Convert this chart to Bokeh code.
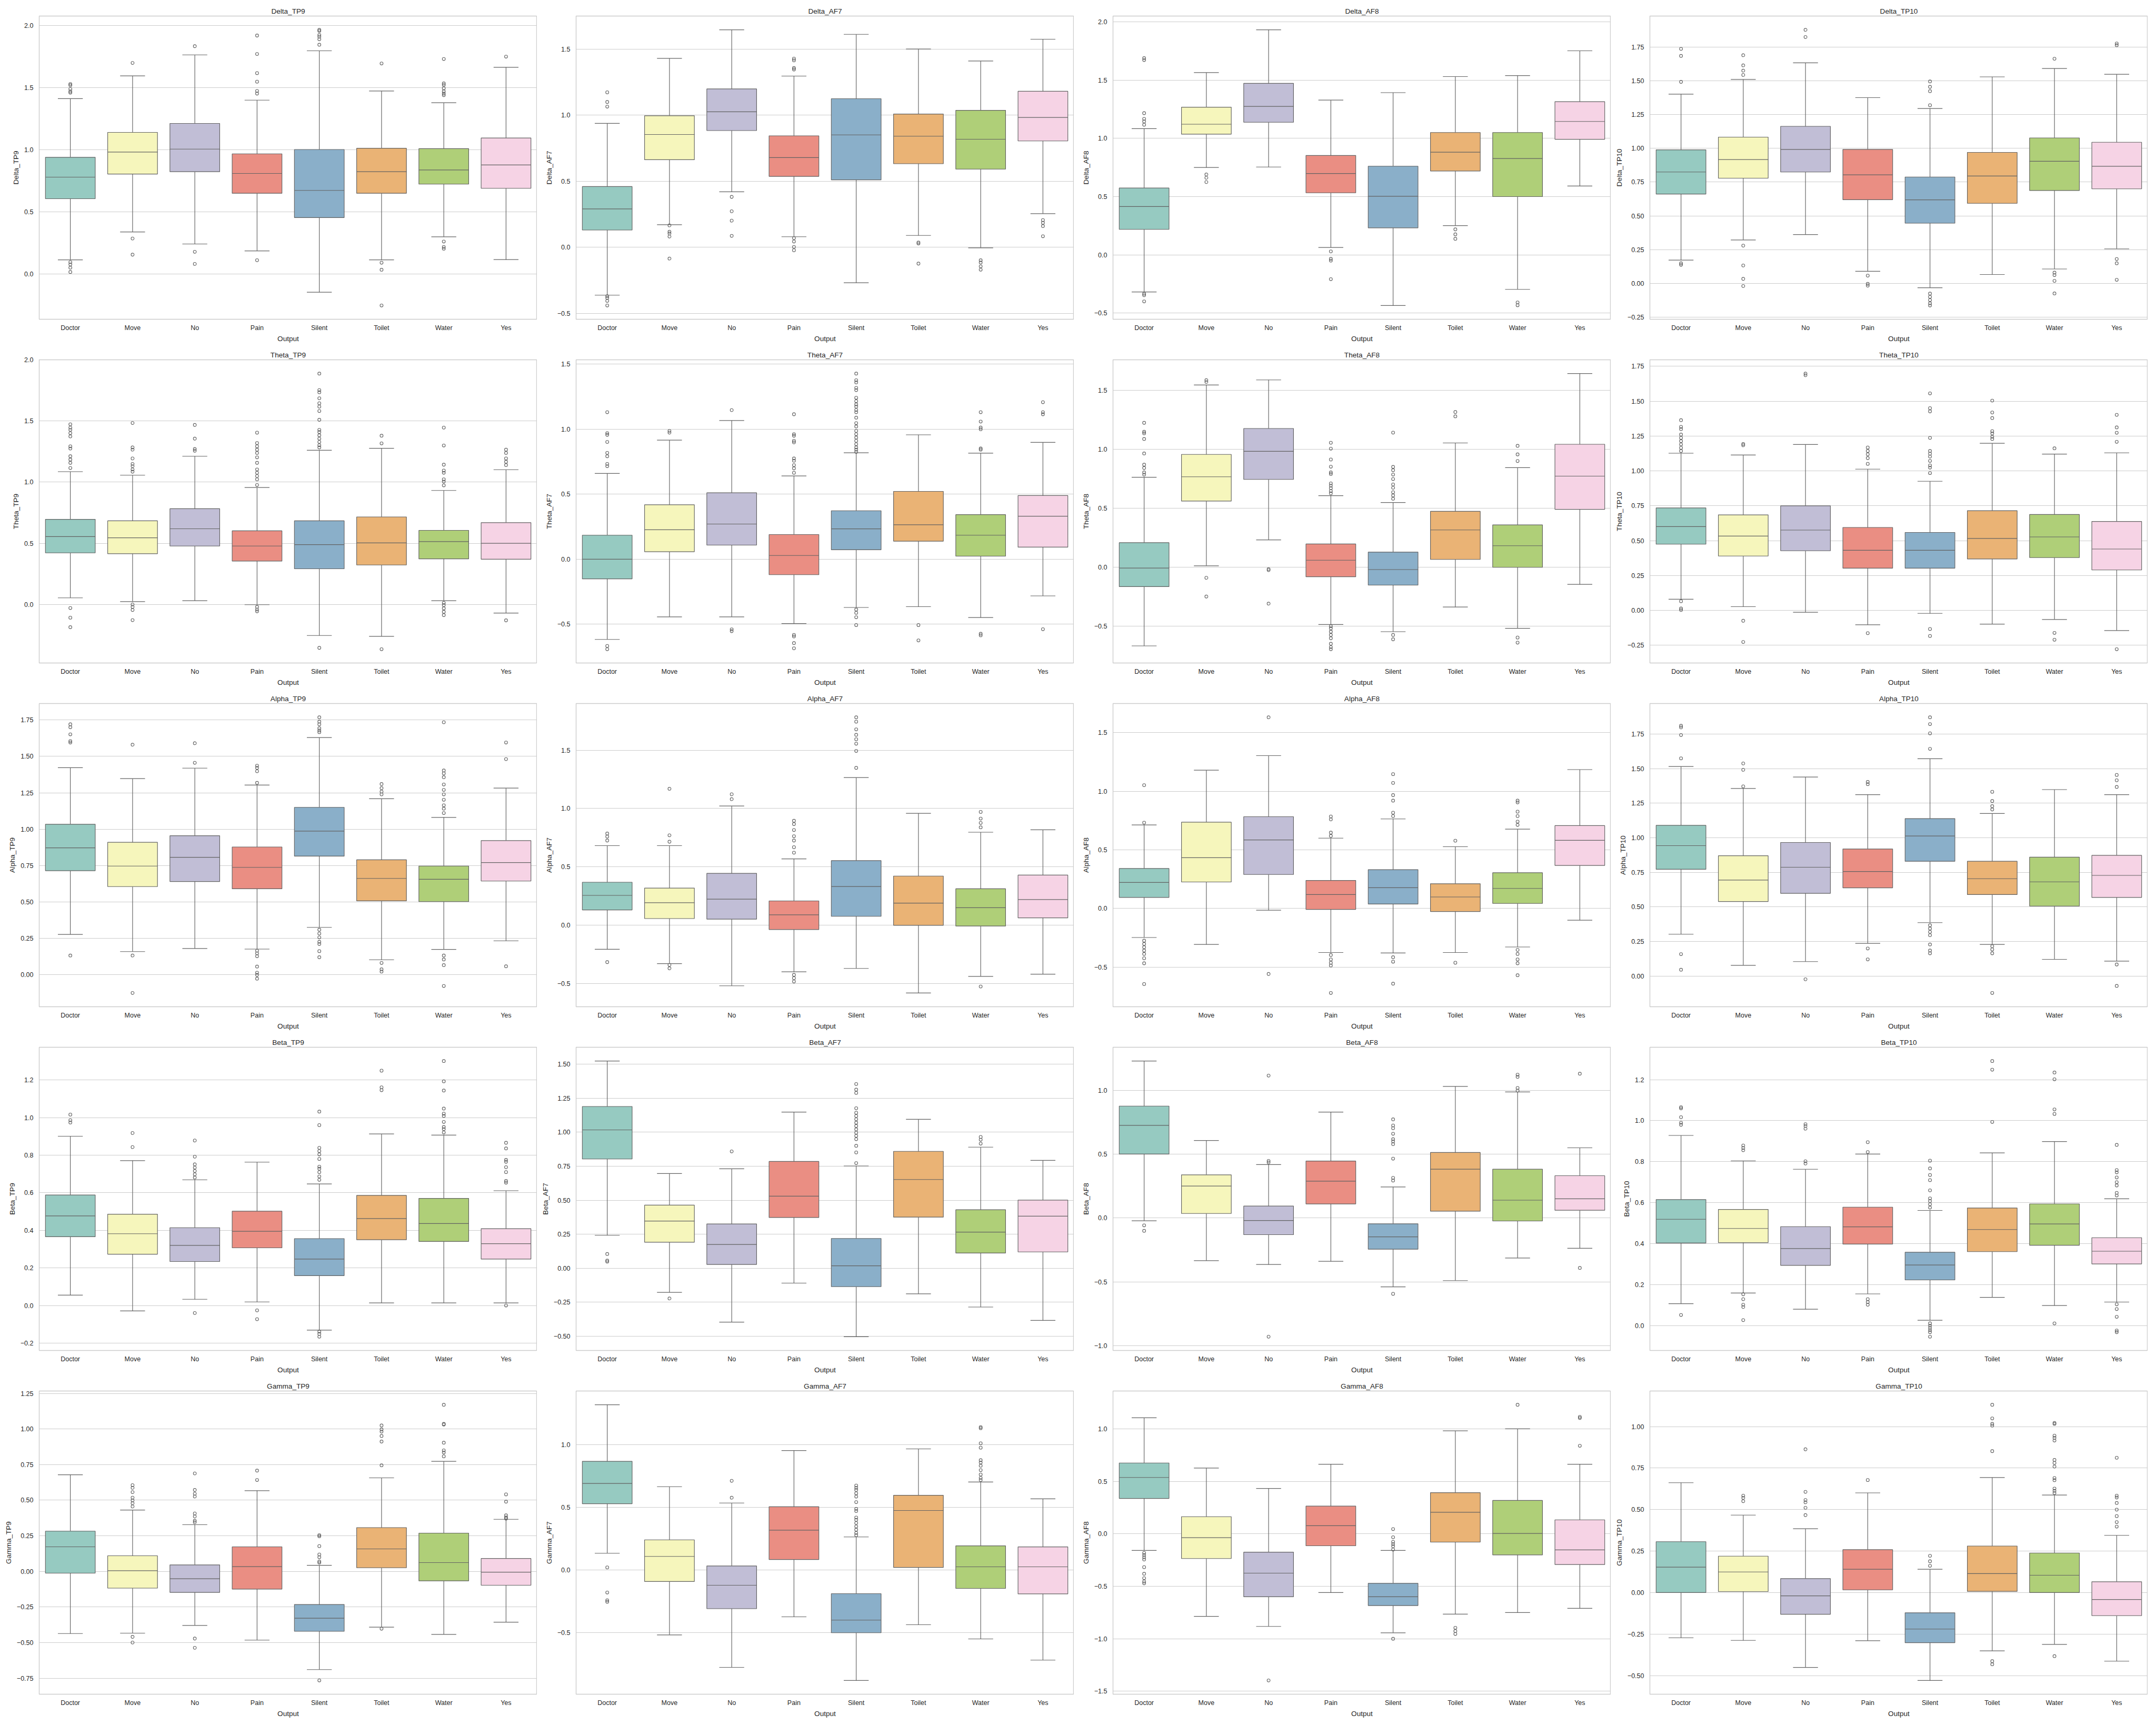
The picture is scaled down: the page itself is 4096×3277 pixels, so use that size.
import colorsys
import math
from bokeh.plotting import figure
from bokeh.layouts import gridplot
from bokeh.models import Range1d, FixedTicker, ColumnDataSource
from bokeh.embed import file_html
from bokeh.resources import INLINE

CATEGORIES = ["Doctor", "Move", "No", "Pain", "Silent", "Toilet", "Water", "Yes"]
SET3 = ["#8dd3c7", "#ffffb3", "#bebada", "#fb8072", "#80b1d3", "#fdb462", "#b3de69", "#fccde5"]

TITLES = ["Delta_TP9", "Delta_AF7", "Delta_AF8", "Delta_TP10",
          "Theta_TP9", "Theta_AF7", "Theta_AF8", "Theta_TP10",
          "Alpha_TP9", "Alpha_AF7", "Alpha_AF8", "Alpha_TP10",
          "Beta_TP9", "Beta_AF7", "Beta_AF8", "Beta_TP10",
          "Gamma_TP9", "Gamma_AF7", "Gamma_AF8", "Gamma_TP10"]

TICK_STEPS = [0.5, 0.5, 0.5, 0.25,
              0.5, 0.5, 0.5, 0.25,
              0.25, 0.5, 0.5, 0.25,
              0.2, 0.25, 0.5, 0.2,
              0.25, 0.5, 0.5, 0.25]

DELTA_TP9 = dict(
    lo=[0.112, 0.337, 0.240, 0.184, -0.149, 0.112, 0.298, 0.114],
    q1=[0.605, 0.804, 0.823, 0.649, 0.453, 0.649, 0.723, 0.689],
    med=[0.779, 0.981, 1.005, 0.809, 0.672, 0.823, 0.837, 0.877],
    q3=[0.939, 1.140, 1.212, 0.967, 1.002, 1.012, 1.009, 1.095],
    hi=[1.412, 1.596, 1.765, 1.400, 1.798, 1.474, 1.379, 1.665],
    out=[[1.53, 1.52, 1.49, 1.47, 1.46, 0.093, 0.075, 0.049, 0.014],
         [1.70, 0.284, 0.154],
         [1.835, 0.177, 0.079],
         [1.921, 1.772, 1.618, 1.549, 1.474, 1.453, 0.109],
         [1.967, 1.958, 1.926, 1.912, 1.891, 1.847],
         [1.696, 0.089, 0.032, -0.256],
         [1.732, 1.535, 1.523, 1.496, 1.47, 1.453, 1.44, 0.26, 0.216, 0.202],
         [1.751]])

DELTA_AF7 = dict(
    lo=[-0.363, 0.170, 0.419, 0.079, -0.269, 0.089, -0.005, 0.254],
    q1=[0.130, 0.662, 0.883, 0.536, 0.510, 0.632, 0.591, 0.804],
    med=[0.290, 0.853, 1.025, 0.678, 0.850, 0.840, 0.817, 0.982],
    q3=[0.459, 0.995, 1.198, 0.843, 1.124, 1.008, 1.036, 1.180],
    hi=[0.937, 1.429, 1.645, 1.295, 1.611, 1.500, 1.409, 1.574],
    out=[[1.172, 1.099, 1.064, -0.371, -0.384, -0.406, -0.441],
         [0.165, 0.117, 0.104, 0.081, -0.086],
         [0.381, 0.272, 0.201, 0.086],
         [1.427, 1.414, 1.356, 1.345, 0.069, 0.043, 0.002, -0.023],
         [],
         [0.036, 0.028, -0.124],
         [-0.099, -0.116, -0.145, -0.170],
         [0.205, 0.185, 0.160, 0.083]])

DELTA_AF8 = dict(
    lo=[-0.318, 0.750, 0.754, 0.064, -0.434, 0.251, -0.296, 0.591],
    q1=[0.219, 1.036, 1.138, 0.533, 0.232, 0.720, 0.500, 0.992],
    med=[0.415, 1.121, 1.274, 0.698, 0.503, 0.881, 0.827, 1.145],
    q3=[0.574, 1.267, 1.472, 0.853, 0.761, 1.050, 1.050, 1.315],
    hi=[1.083, 1.564, 1.931, 1.328, 1.392, 1.530, 1.538, 1.751],
    out=[[1.688, 1.672, 1.216, 1.167, 1.145, 1.117, -0.333, -0.346, -0.399],
         [0.690, 0.662, 0.625],
         [],
         [0.030, -0.034, -0.049, -0.208],
         [],
         [0.219, 0.176, 0.138],
         [-0.408, -0.432],
         []])

DELTA_TP10 = dict(
    lo=[0.173, 0.322, 0.362, 0.090, -0.032, 0.066, 0.107, 0.256],
    q1=[0.662, 0.779, 0.825, 0.620, 0.446, 0.593, 0.688, 0.700],
    med=[0.825, 0.917, 0.992, 0.804, 0.619, 0.795, 0.904, 0.867],
    q3=[0.989, 1.083, 1.163, 0.992, 0.788, 0.970, 1.077, 1.045],
    hi=[1.401, 1.510, 1.633, 1.375, 1.295, 1.529, 1.591, 1.548],
    out=[[1.736, 1.684, 1.492, 0.149, 0.138],
         [1.689, 1.614, 1.575, 1.543, 0.280, 0.133, 0.034, -0.019],
         [1.877, 1.824],
         [0.058, -0.003, -0.016],
         [1.495, 1.455, 1.423, 1.319, -0.075, -0.099, -0.123, -0.147, -0.163],
         [],
         [1.663, 0.080, 0.062, 0.019, -0.074],
         [1.776, 1.763, 0.181, 0.149, 0.027]])

THETA_TP9 = dict(
    lo=[0.054, 0.023, 0.031, -0.002, -0.254, -0.261, 0.031, -0.070],
    q1=[0.422, 0.415, 0.478, 0.355, 0.292, 0.323, 0.373, 0.370],
    med=[0.555, 0.545, 0.619, 0.478, 0.489, 0.503, 0.514, 0.500],
    q3=[0.696, 0.684, 0.783, 0.602, 0.684, 0.716, 0.606, 0.669],
    hi=[1.086, 1.057, 1.212, 0.956, 1.261, 1.277, 0.932, 1.102],
    out=[[1.473, 1.446, 1.428, 1.401, 1.374, 1.293, 1.275, 1.212, 1.185, 1.158, 1.116, -0.029, -0.108, -0.186],
         [1.484, 1.284, 1.266, 1.194, 1.149, 1.131, 1.104, 1.086, 0.0, -0.020, -0.045, -0.128],
         [1.468, 1.356, 1.271, 1.257],
         [1.405, 1.320, 1.293, 1.266, 1.239, 1.203, 1.158, 1.104, 1.077, 1.050, 1.023, 0.977, -0.020, -0.041, -0.056],
         [1.888, 1.753, 1.735, 1.686, 1.645, 1.618, 1.582, 1.510, 1.428, 1.410, 1.383, 1.356, 1.329, 1.302, 1.284, -0.355],
         [1.380, 1.317, -0.366],
         [1.446, 1.300, 1.143, 1.095, 1.077, 1.023, 1.005, 0.974, 0.013, -0.005, -0.032, -0.060, -0.087],
         [1.266, 1.239, 1.194, 1.167, 1.140, -0.130]])

THETA_AF7 = dict(
    lo=[-0.617, -0.443, -0.443, -0.495, -0.371, -0.365, -0.448, -0.282],
    q1=[-0.151, 0.058, 0.109, -0.119, 0.073, 0.139, 0.024, 0.093],
    med=[0.0, 0.227, 0.271, 0.029, 0.234, 0.265, 0.185, 0.331],
    q3=[0.185, 0.419, 0.511, 0.190, 0.373, 0.522, 0.343, 0.490],
    hi=[0.660, 0.916, 1.067, 0.641, 0.819, 0.957, 0.816, 0.899],
    out=[[1.131, 0.970, 0.957, 0.902, 0.818, 0.792, 0.733, 0.716, -0.667, -0.692],
         [0.987, 0.974],
         [1.147, -0.539, -0.553],
         [1.115, 0.962, 0.950, 0.911, 0.899, 0.775, 0.758, 0.724, 0.699, 0.665, -0.582, -0.594, -0.645, -0.685],
         [1.428, 1.377, 1.360, 1.318, 1.301, 1.242, 1.216, 1.191, 1.174, 1.148, 1.131, 1.089, 1.047, 1.021,
          0.987, 0.962, 0.936, 0.911, 0.885, 0.860, 0.843, 0.826, -0.387, -0.412, -0.446, -0.506],
         [-0.506, -0.624],
         [1.131, 1.059, 1.013, 1.0, 0.852, 0.843, -0.573, -0.585],
         [1.208, 1.131, 1.115, -0.538]])

THETA_AF8 = dict(
    lo=[-0.667, 0.013, 0.233, -0.485, -0.546, -0.337, -0.518, -0.145],
    q1=[-0.164, 0.562, 0.746, -0.080, -0.151, 0.067, 0.0, 0.492],
    med=[-0.006, 0.768, 0.984, 0.060, -0.019, 0.317, 0.183, 0.774],
    q3=[0.209, 0.958, 1.178, 0.198, 0.129, 0.475, 0.360, 1.044],
    hi=[0.764, 1.547, 1.590, 0.608, 0.550, 1.055, 0.846, 1.644],
    out=[[1.226, 1.150, 1.137, 1.089, 0.966, 0.871, 0.843, 0.805, 0.787],
         [1.588, 1.573, -0.089, -0.248],
         [-0.015, -0.024, -0.308],
         [1.057, 1.007, 0.915, 0.854, 0.805, 0.792, 0.712, 0.693, 0.671, 0.647, 0.628,
          -0.5, -0.518, -0.546, -0.574, -0.602, -0.649, -0.677, -0.695],
         [1.143, 0.852, 0.824, 0.787, 0.749, 0.703, 0.675, 0.637, 0.610, 0.582, -0.574, -0.611],
         [1.318, 1.281],
         [1.031, 0.958, 0.902, -0.596, -0.639],
         []])

THETA_TP10 = dict(
    lo=[0.080, 0.027, -0.013, -0.103, -0.021, -0.098, -0.065, -0.144],
    q1=[0.475, 0.390, 0.428, 0.303, 0.303, 0.369, 0.379, 0.290],
    med=[0.601, 0.533, 0.576, 0.431, 0.431, 0.516, 0.527, 0.440],
    q3=[0.735, 0.685, 0.750, 0.595, 0.559, 0.715, 0.688, 0.638],
    hi=[1.127, 1.114, 1.190, 1.013, 0.926, 1.198, 1.121, 1.130],
    out=[[1.364, 1.316, 1.300, 1.261, 1.237, 1.214, 1.190, 1.166, 1.143, 0.066, 0.014, 0.003],
         [1.193, 1.184, -0.074, -0.226],
         [1.698, 1.686],
         [1.168, 1.143, 1.119, 1.092, 1.051, -0.163],
         [1.556, 1.450, 1.427, 1.237, 1.143, 1.124, 1.103, 1.072, 1.040, 1.024, 0.985, -0.133, -0.183],
         [1.504, 1.419, 1.379, 1.285, 1.269, 1.245, 1.229],
         [1.162, -0.161, -0.210],
         [1.402, 1.312, 1.274, 1.209, -0.278]])

ALPHA_TP9 = dict(
    lo=[0.278, 0.160, 0.181, 0.177, 0.326, 0.104, 0.175, 0.234],
    q1=[0.715, 0.606, 0.641, 0.591, 0.815, 0.508, 0.503, 0.644],
    med=[0.872, 0.747, 0.807, 0.738, 0.987, 0.662, 0.656, 0.771],
    q3=[1.034, 0.910, 0.955, 0.878, 1.150, 0.790, 0.747, 0.922],
    hi=[1.422, 1.347, 1.419, 1.303, 1.629, 1.209, 1.081, 1.282],
    out=[[1.720, 1.700, 1.651, 1.605, 1.595, 0.133],
         [1.580, 0.133, -0.124],
         [1.590, 1.456],
         [1.436, 1.421, 1.398, 1.318, 0.166, 0.148, 0.128, 0.057, 0.015, 0.0, -0.026],
         [1.768, 1.738, 1.720, 1.693, 1.678, 1.666, 0.310, 0.284, 0.257, 0.227, 0.212, 0.163, 0.121],
         [1.310, 1.282, 1.258, 1.239, 0.082, 0.038, 0.023],
         [1.734, 1.403, 1.383, 1.357, 1.307, 1.270, 1.239, 1.202, 1.164, 1.141, 1.111, 0.133, 0.106, 0.067, -0.076],
         [1.595, 1.481, 0.059]])

ALPHA_AF7 = dict(
    lo=[-0.205, -0.328, -0.518, -0.398, -0.369, -0.579, -0.437, -0.418],
    q1=[0.132, 0.058, 0.053, -0.036, 0.077, 0.0, -0.006, 0.064],
    med=[0.256, 0.194, 0.224, 0.090, 0.332, 0.190, 0.151, 0.221],
    q3=[0.369, 0.319, 0.445, 0.209, 0.554, 0.422, 0.313, 0.430],
    hi=[0.682, 0.682, 1.022, 0.569, 1.265, 0.959, 0.797, 0.818],
    out=[[0.786, 0.760, 0.726, -0.315],
         [1.169, 0.771, 0.716, -0.339, -0.368],
         [1.122, 1.080],
         [0.895, 0.867, 0.816, 0.763, 0.726, 0.669, 0.622, -0.424, -0.452, -0.481],
         [1.781, 1.744, 1.678, 1.631, 1.593, 1.555, 1.493, 1.348],
         [],
         [0.971, 0.914, 0.877, 0.839, -0.524],
         []])

ALPHA_AF8 = dict(
    lo=[-0.248, -0.307, -0.015, -0.376, -0.380, -0.376, -0.329, -0.100],
    q1=[0.094, 0.226, 0.290, -0.008, 0.038, -0.026, 0.043, 0.367],
    med=[0.222, 0.433, 0.585, 0.119, 0.177, 0.098, 0.171, 0.581],
    q3=[0.341, 0.736, 0.783, 0.239, 0.331, 0.211, 0.305, 0.707],
    hi=[0.713, 1.180, 1.304, 0.600, 0.764, 0.527, 0.677, 1.185],
    out=[[1.052, 0.732, -0.275, -0.303, -0.331, -0.359, -0.388, -0.425, -0.468, -0.645],
         [],
         [1.631, -0.559],
         [0.785, 0.760, 0.647, 0.619, -0.397, -0.435, -0.463, -0.487, -0.721],
         [1.146, 1.071, 0.967, 0.920, 0.817, 0.788, -0.416, -0.454, -0.642],
         [0.578, -0.463],
         [0.920, 0.905, 0.826, 0.788, 0.741, 0.713, -0.354, -0.388, -0.435, -0.468, -0.570],
         []])

ALPHA_TP10 = dict(
    lo=[0.302, 0.077, 0.104, 0.236, 0.386, 0.228, 0.120, 0.107],
    q1=[0.772, 0.539, 0.598, 0.638, 0.830, 0.589, 0.506, 0.568],
    med=[0.943, 0.694, 0.787, 0.756, 1.013, 0.704, 0.681, 0.728],
    q3=[1.090, 0.870, 0.966, 0.919, 1.139, 0.830, 0.860, 0.873],
    hi=[1.516, 1.357, 1.440, 1.312, 1.572, 1.176, 1.349, 1.312],
    out=[[1.811, 1.799, 1.744, 1.575, 0.158, 0.045],
         [1.538, 1.492, 1.372],
         [-0.024],
         [1.404, 1.388, 0.199, 0.120],
         [1.872, 1.823, 1.756, 1.644, 0.367, 0.343, 0.319, 0.295, 0.228, 0.184, 0.164],
         [1.333, 1.266, 1.229, 1.205, 0.215, 0.192, 0.164, -0.123],
         [],
         [1.455, 1.416, 1.368, 0.083, -0.072]])

BETA_TP9 = dict(
    lo=[0.055, -0.029, 0.033, 0.019, -0.131, 0.014, 0.014, 0.014],
    q1=[0.366, 0.273, 0.234, 0.307, 0.159, 0.350, 0.341, 0.247],
    med=[0.477, 0.382, 0.320, 0.395, 0.247, 0.463, 0.436, 0.329],
    q3=[0.588, 0.486, 0.414, 0.502, 0.356, 0.586, 0.570, 0.409],
    hi=[0.901, 0.771, 0.669, 0.763, 0.647, 0.913, 0.907, 0.611],
    out=[[1.016, 0.986, 0.974],
         [0.918, 0.843],
         [0.878, 0.792, 0.751, 0.734, 0.716, 0.698, 0.681, -0.040],
         [-0.026, -0.073],
         [1.032, 0.960, 0.839, 0.822, 0.804, 0.780, 0.739, 0.728, 0.710, 0.687, 0.669, -0.139, -0.151, -0.166],
         [1.250, 1.161, 1.146],
         [1.301, 1.193, 1.144, 1.048, 1.021, 1.009, 0.977, 0.950, 0.939, 0.921],
         [0.866, 0.836, 0.775, 0.765, 0.736, 0.710, 0.663, 0.654, 0.0]])

BETA_AF7 = dict(
    lo=[0.242, -0.177, -0.396, -0.109, -0.503, -0.188, -0.285, -0.383],
    q1=[0.803, 0.191, 0.028, 0.373, -0.135, 0.376, 0.112, 0.120],
    med=[1.017, 0.347, 0.175, 0.530, 0.018, 0.652, 0.266, 0.383],
    q3=[1.189, 0.464, 0.326, 0.785, 0.219, 0.859, 0.430, 0.501],
    hi=[1.523, 0.696, 0.731, 1.148, 0.752, 1.095, 0.890, 0.793],
    out=[[0.105, 0.057, 0.049],
         [-0.222],
         [0.859],
         [],
         [1.354, 1.313, 1.289, 1.176, 1.143, 1.119, 1.095, 1.070, 1.046, 1.021, 0.997, 0.973, 0.949, 0.900, 0.851, 0.773],
         [],
         [0.965, 0.945, 0.916],
         []])

BETA_AF8 = dict(
    lo=[-0.021, -0.334, -0.364, -0.339, -0.539, -0.490, -0.313, -0.237],
    q1=[0.502, 0.036, -0.130, 0.111, -0.244, 0.054, -0.023, 0.061],
    med=[0.727, 0.251, -0.019, 0.289, -0.147, 0.383, 0.140, 0.151],
    q3=[0.878, 0.339, 0.094, 0.447, -0.045, 0.514, 0.383, 0.332],
    hi=[1.231, 0.608, 0.419, 0.831, 0.244, 1.032, 0.989, 0.551],
    out=[[-0.057, -0.100],
         [],
         [1.117, 0.448, 0.436, -0.930],
         [],
         [0.774, 0.726, 0.705, 0.661, 0.618, 0.601, 0.580, 0.466, 0.315, 0.294, -0.594],
         [],
         [1.124, 1.107, 1.020, 0.999],
         [1.132, -0.391]])

BETA_TP10 = dict(
    lo=[0.107, 0.159, 0.080, 0.155, 0.026, 0.138, 0.098, 0.115],
    q1=[0.403, 0.405, 0.294, 0.398, 0.223, 0.361, 0.392, 0.301],
    med=[0.519, 0.474, 0.376, 0.482, 0.296, 0.469, 0.496, 0.363],
    q3=[0.615, 0.567, 0.483, 0.578, 0.358, 0.574, 0.594, 0.429],
    hi=[0.928, 0.804, 0.763, 0.837, 0.562, 0.843, 0.898, 0.619],
    out=[[1.066, 1.060, 1.017, 0.990, 0.980, 0.052],
         [0.879, 0.867, 0.856, 0.153, 0.129, 0.102, 0.091, 0.027],
         [0.983, 0.974, 0.961, 0.802, 0.791],
         [0.895, 0.847, 0.129, 0.115, 0.102],
         [0.805, 0.767, 0.735, 0.710, 0.660, 0.621, 0.608, 0.592, 0.576, 0.011, 0.0, -0.011, -0.022, -0.032, -0.054],
         [1.291, 1.249, 0.994],
         [1.235, 1.202, 1.055, 1.033, 0.011],
         [0.882, 0.759, 0.748, 0.723, 0.700, 0.684, 0.648, 0.635, 0.104, 0.081, 0.043, -0.024, -0.032]])

GAMMA_TP9 = dict(
    lo=[-0.436, -0.433, -0.379, -0.482, -0.689, -0.391, -0.442, -0.356],
    q1=[-0.012, -0.117, -0.147, -0.124, -0.420, 0.026, -0.066, -0.097],
    med=[0.173, 0.005, -0.051, 0.034, -0.328, 0.158, 0.062, -0.005],
    q3=[0.283, 0.110, 0.046, 0.173, -0.232, 0.308, 0.269, 0.091],
    hi=[0.679, 0.431, 0.328, 0.567, 0.043, 0.657, 0.773, 0.366],
    out=[[],
         [0.606, 0.587, 0.557, 0.518, 0.499, 0.479, 0.456, -0.459, -0.499],
         [0.688, 0.572, 0.546, 0.526, 0.407, 0.386, 0.356, 0.345, -0.471, -0.536],
         [0.708, 0.642],
         [0.255, 0.247, 0.178, 0.119, 0.100, 0.070, 0.062, -0.765],
         [1.025, 0.997, 0.982, 0.951, 0.912, 0.745, -0.402],
         [1.170, 1.036, 1.031, 0.904, 0.850, 0.835, 0.808],
         [0.541, 0.490, 0.394, 0.379, 0.371]])

GAMMA_AF7 = dict(
    lo=[0.134, -0.517, -0.776, -0.373, -0.880, -0.436, -0.549, -0.718],
    q1=[0.529, -0.091, -0.308, 0.084, -0.500, 0.021, -0.146, -0.190],
    med=[0.691, 0.109, -0.121, 0.318, -0.399, 0.475, 0.026, 0.026],
    q3=[0.867, 0.241, 0.033, 0.505, -0.188, 0.596, 0.193, 0.185],
    hi=[1.318, 0.665, 0.535, 0.953, 0.264, 0.966, 0.702, 0.568],
    out=[[0.021, -0.179, -0.241, -0.253],
         [],
         [0.712, 0.577],
         [],
         [0.674, 0.656, 0.639, 0.612, 0.586, 0.542, 0.488, 0.471, 0.419, 0.401, 0.375, 0.348, 0.322, 0.296, 0.278],
         [],
         [1.140, 1.131, 1.011, 0.976, 0.876, 0.858, 0.832, 0.797, 0.762, 0.735, 0.718],
         []])

GAMMA_AF8 = dict(
    lo=[-0.158, -0.786, -0.882, -0.559, -0.943, -0.765, -0.750, -0.710],
    q1=[0.338, -0.235, -0.599, -0.113, -0.683, -0.078, -0.200, -0.292],
    med=[0.538, -0.036, -0.374, 0.078, -0.599, 0.206, 0.004, -0.153],
    q3=[0.676, 0.164, -0.174, 0.265, -0.471, 0.393, 0.319, 0.134],
    hi=[1.107, 0.628, 0.433, 0.664, -0.158, 0.983, 1.002, 0.664],
    out=[[-0.181, -0.202, -0.223, -0.244, -0.317, -0.380, -0.422, -0.454, -0.471],
         [],
         [-1.397],
         [],
         [0.046, -0.032, -0.076, -0.097, -0.118, -0.149, -1.0],
         [-0.895, -0.926, -0.954],
         [1.231],
         [1.116, 1.105, 0.840]])

GAMMA_TP10 = dict(
    lo=[-0.271, -0.287, -0.450, -0.289, -0.528, -0.350, -0.311, -0.412],
    q1=[0.001, 0.007, -0.130, 0.017, -0.301, 0.008, 0.001, -0.138],
    med=[0.154, 0.125, -0.019, 0.141, -0.219, 0.115, 0.105, -0.041],
    q3=[0.307, 0.220, 0.085, 0.259, -0.121, 0.281, 0.239, 0.066],
    hi=[0.662, 0.467, 0.385, 0.601, 0.141, 0.693, 0.588, 0.345],
    out=[[],
         [0.584, 0.571, 0.551],
         [0.863, 0.607, 0.558, 0.544, 0.511, 0.467],
         [0.678],
         [0.222, 0.189, 0.162],
         [1.131, 1.049, 1.016, 1.006, 0.852, -0.412, -0.431],
         [1.022, 1.016, 0.945, 0.932, 0.916, 0.799, 0.781, 0.759, 0.690, 0.677, 0.627, 0.613, 0.600, -0.382],
         [0.812, 0.584, 0.573, 0.540, 0.500, 0.461, 0.425, 0.398]])

PANELS = [DELTA_TP9, DELTA_AF7, DELTA_AF8, DELTA_TP10,
          THETA_TP9, THETA_AF7, THETA_AF8, THETA_TP10,
          ALPHA_TP9, ALPHA_AF7, ALPHA_AF8, ALPHA_TP10,
          BETA_TP9, BETA_AF7, BETA_AF8, BETA_TP10,
          GAMMA_TP9, GAMMA_AF7, GAMMA_AF8, GAMMA_TP10]

# ---------------- styling ----------------
FONT = "Liberation Sans"
TEXT = "#262626"
GRID = "#cccccc"
LINE = "#626262"
BOX_W = 0.8
CAP_W = 0.4


def desaturate(hexc, prop=0.75):
    r, g, b = [int(hexc[i:i + 2], 16) / 255 for i in (1, 3, 5)]
    h, l, s = colorsys.rgb_to_hls(r, g, b)
    r, g, b = colorsys.hls_to_rgb(h, l, s * prop)
    return "#%02x%02x%02x" % tuple(int(round(c * 255)) for c in (r, g, b))


FILLS = [desaturate(c) for c in SET3]


def fmt(v, dec):
    s = f"{v:.{dec}f}"
    if s.startswith("-"):
        s = "\u2212" + s[1:]
    return s


def make_panel(title, d, step):
    allv = d["lo"] + d["hi"] + [v for o in d["out"] for v in o]
    vmin, vmax = min(allv), max(allv)
    pad = 0.05 * (vmax - vmin)
    y0, y1 = vmin - pad, vmax + pad

    p = figure(width=1020, height=653,
               x_range=Range1d(-0.5, 7.5), y_range=Range1d(y0, y1),
               output_backend="svg", toolbar_location=None,
               min_border_left=74, min_border_right=0,
               min_border_top=30, min_border_bottom=41)
    p.background_fill_color = "white"
    p.border_fill_color = "white"
    p.outline_line_color = GRID
    p.outline_line_width = 1.4

    p.title.text = title
    p.title.align = "center"
    p.title.text_font = FONT
    p.title.text_font_size = "13.6px"
    p.title.text_font_style = "normal"
    p.title.text_color = TEXT
    p.title.standoff = 4

    # x axis
    xs = list(range(len(CATEGORIES)))
    p.xaxis.ticker = FixedTicker(ticks=xs)
    p.xaxis.major_label_overrides = {i: c for i, c in zip(xs, CATEGORIES)}
    p.xaxis.axis_label = "Output"

    # y axis
    dec = 2 if abs(step - 0.25) < 1e-9 else 1
    k0 = math.ceil(y0 / step - 1e-9)
    k1 = math.floor(y1 / step + 1e-9)
    ticks = [round(k * step, 4) for k in range(k0, k1 + 1)]
    p.yaxis.ticker = FixedTicker(ticks=ticks)
    p.yaxis.major_label_overrides = {t: fmt(t, dec) for t in ticks}
    p.yaxis.axis_label = title

    for ax in (p.xaxis, p.yaxis):
        ax.axis_line_color = None
        ax.major_tick_line_color = None
        ax.minor_tick_line_color = None
        ax.major_tick_out = 0
        ax.major_label_text_font = FONT
        ax.major_label_text_font_size = "12.5px"
        ax.major_label_text_color = TEXT
        ax.axis_label_text_font = FONT
        ax.axis_label_text_font_size = "13.6px"
        ax.axis_label_text_font_style = "normal"
        ax.axis_label_text_color = TEXT
    p.xaxis.major_label_standoff = 9
    p.xaxis.axis_label_standoff = 3
    p.yaxis.major_label_standoff = 11
    p.yaxis.axis_label_standoff = 5

    p.xgrid.grid_line_color = None
    p.ygrid.grid_line_color = GRID
    p.ygrid.grid_line_width = 1.1

    src = ColumnDataSource(dict(
        x=xs,
        xl=[x - BOX_W / 2 for x in xs], xr=[x + BOX_W / 2 for x in xs],
        cl=[x - CAP_W / 2 for x in xs], cr=[x + CAP_W / 2 for x in xs],
        lo=d["lo"], q1=d["q1"], med=d["med"], q3=d["q3"], hi=d["hi"],
        color=FILLS))

    lw = 1.15
    p.segment(x0="x", y0="q3", x1="x", y1="hi", source=src, line_color=LINE, line_width=lw)
    p.segment(x0="x", y0="q1", x1="x", y1="lo", source=src, line_color=LINE, line_width=lw)
    p.segment(x0="cl", y0="hi", x1="cr", y1="hi", source=src, line_color=LINE, line_width=lw)
    p.segment(x0="cl", y0="lo", x1="cr", y1="lo", source=src, line_color=LINE, line_width=lw)
    p.vbar(x="x", width=BOX_W, bottom="q1", top="q3", source=src,
           fill_color="color", line_color=LINE, line_width=lw)
    p.segment(x0="xl", y0="med", x1="xr", y1="med", source=src, line_color=LINE, line_width=lw)

    ox, oy = [], []
    for i, vals in enumerate(d["out"]):
        for v in vals:
            ox.append(i)
            oy.append(v)
    p.scatter(x=ox, y=oy, marker="circle", size=5.7, fill_color=None,
              line_color=LINE, line_width=1.1)
    return p


figs = [make_panel(t, d, s) for t, d, s in zip(TITLES, PANELS, TICK_STEPS)]
grid = gridplot(figs, ncols=4, toolbar_location=None)

open("out.html", "w").write(file_html(grid, INLINE))
